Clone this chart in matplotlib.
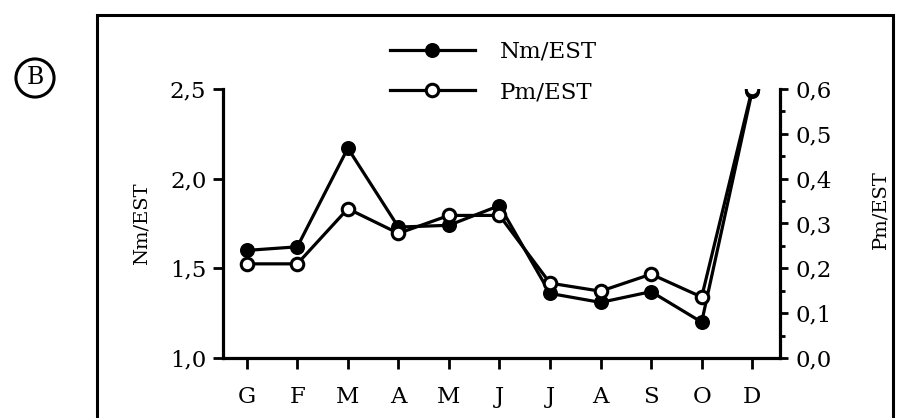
import matplotlib
matplotlib.use("Agg")
import matplotlib.pyplot as plt
from matplotlib.patches import Rectangle
from matplotlib.ticker import MultipleLocator, FuncFormatter

### data ###
months = ["G", "F", "M", "A", "M", "J", "J", "A", "S", "O", "D"]
nm_est = [1.60, 1.62, 2.17, 1.73, 1.74, 1.85, 1.36, 1.31, 1.37, 1.20, 2.49]
pm_est = [0.21, 0.21, 0.333, 0.278, 0.318, 0.318, 0.167, 0.149, 0.187, 0.136, 0.60]

plt.rcParams['font.family'] = ['DejaVu Serif']
W, H = 899, 418

fig = plt.figure(figsize=(W / 100, H / 100), dpi=100)

def fx(px): return px / W
def fy(py): return 1 - py / H

### axes box ###
ax = fig.add_axes([fx(223), fy(358), fx(780) - fx(223), fy(89) - fy(358)])
ax2 = ax.twinx()

x = list(range(len(months)))
ln1, = ax.plot(x, nm_est, '-o', color='k', lw=2.3, ms=9, mfc='k', mec='k', mew=1.8, label='Nm/EST')
ln2, = ax2.plot(x, pm_est, '-o', color='k', lw=2.3, ms=9, mfc='white', mec='k', mew=2.2, label='Pm/EST')

ax.set_xlim(-0.47, 10.55)
ax.set_ylim(1.0, 2.5)
ax2.set_ylim(0.0, 0.6)

comma = FuncFormatter(lambda v, p: f"{v:.1f}".replace('.', ','))

ax.set_xticks(x)
ax.set_xticklabels(months)
ax.yaxis.set_major_locator(MultipleLocator(0.5))
ax.yaxis.set_major_formatter(comma)
ax2.yaxis.set_major_locator(MultipleLocator(0.1))
ax2.yaxis.set_minor_locator(MultipleLocator(0.05))
ax2.yaxis.set_major_formatter(comma)

for a in (ax, ax2):
    a.spines['top'].set_visible(False)
    for s in a.spines.values():
        s.set_linewidth(2.3)
ax.spines['right'].set_visible(False)
ax2.spines['left'].set_visible(False)
ax2.spines['bottom'].set_visible(False)

ax.tick_params(axis='x', direction='out', length=8, width=2, pad=12, labelsize=16.5)
ax.tick_params(axis='y', direction='out', length=7, width=2, pad=5, labelsize=16.5)
ax2.tick_params(axis='y', which='major', direction='out', length=6, width=2, pad=5, labelsize=16.5)
ax2.tick_params(axis='y', which='minor', direction='out', length=3.5, width=2)

ax.set_ylabel('Nm/EST', fontsize=14, labelpad=14)
ax2.set_ylabel('Pm/EST', fontsize=14)
ax2.yaxis.set_label_coords(1.165, 0.55)

### legend ###
fig.legend(handles=[ln1, ln2], loc='upper left', bbox_to_anchor=(fx(390), fy(41)),
           frameon=False, fontsize=16.5, handlelength=3.7, handletextpad=1.1,
           labelspacing=0.8, borderpad=0, borderaxespad=0)

### outer frame and panel label ###
fig.patches.append(Rectangle((fx(97), -0.1), fx(893) - fx(97), fy(15) + 0.1,
                             transform=fig.transFigure, fill=False, lw=2.2, ec='k'))
fig.text(fx(35), fy(78), 'B', fontsize=17, ha='center', va='center',
         bbox=dict(boxstyle='circle,pad=0.32', fc='none', ec='k', lw=2.2))

fig.savefig('out.png', dpi=100)
